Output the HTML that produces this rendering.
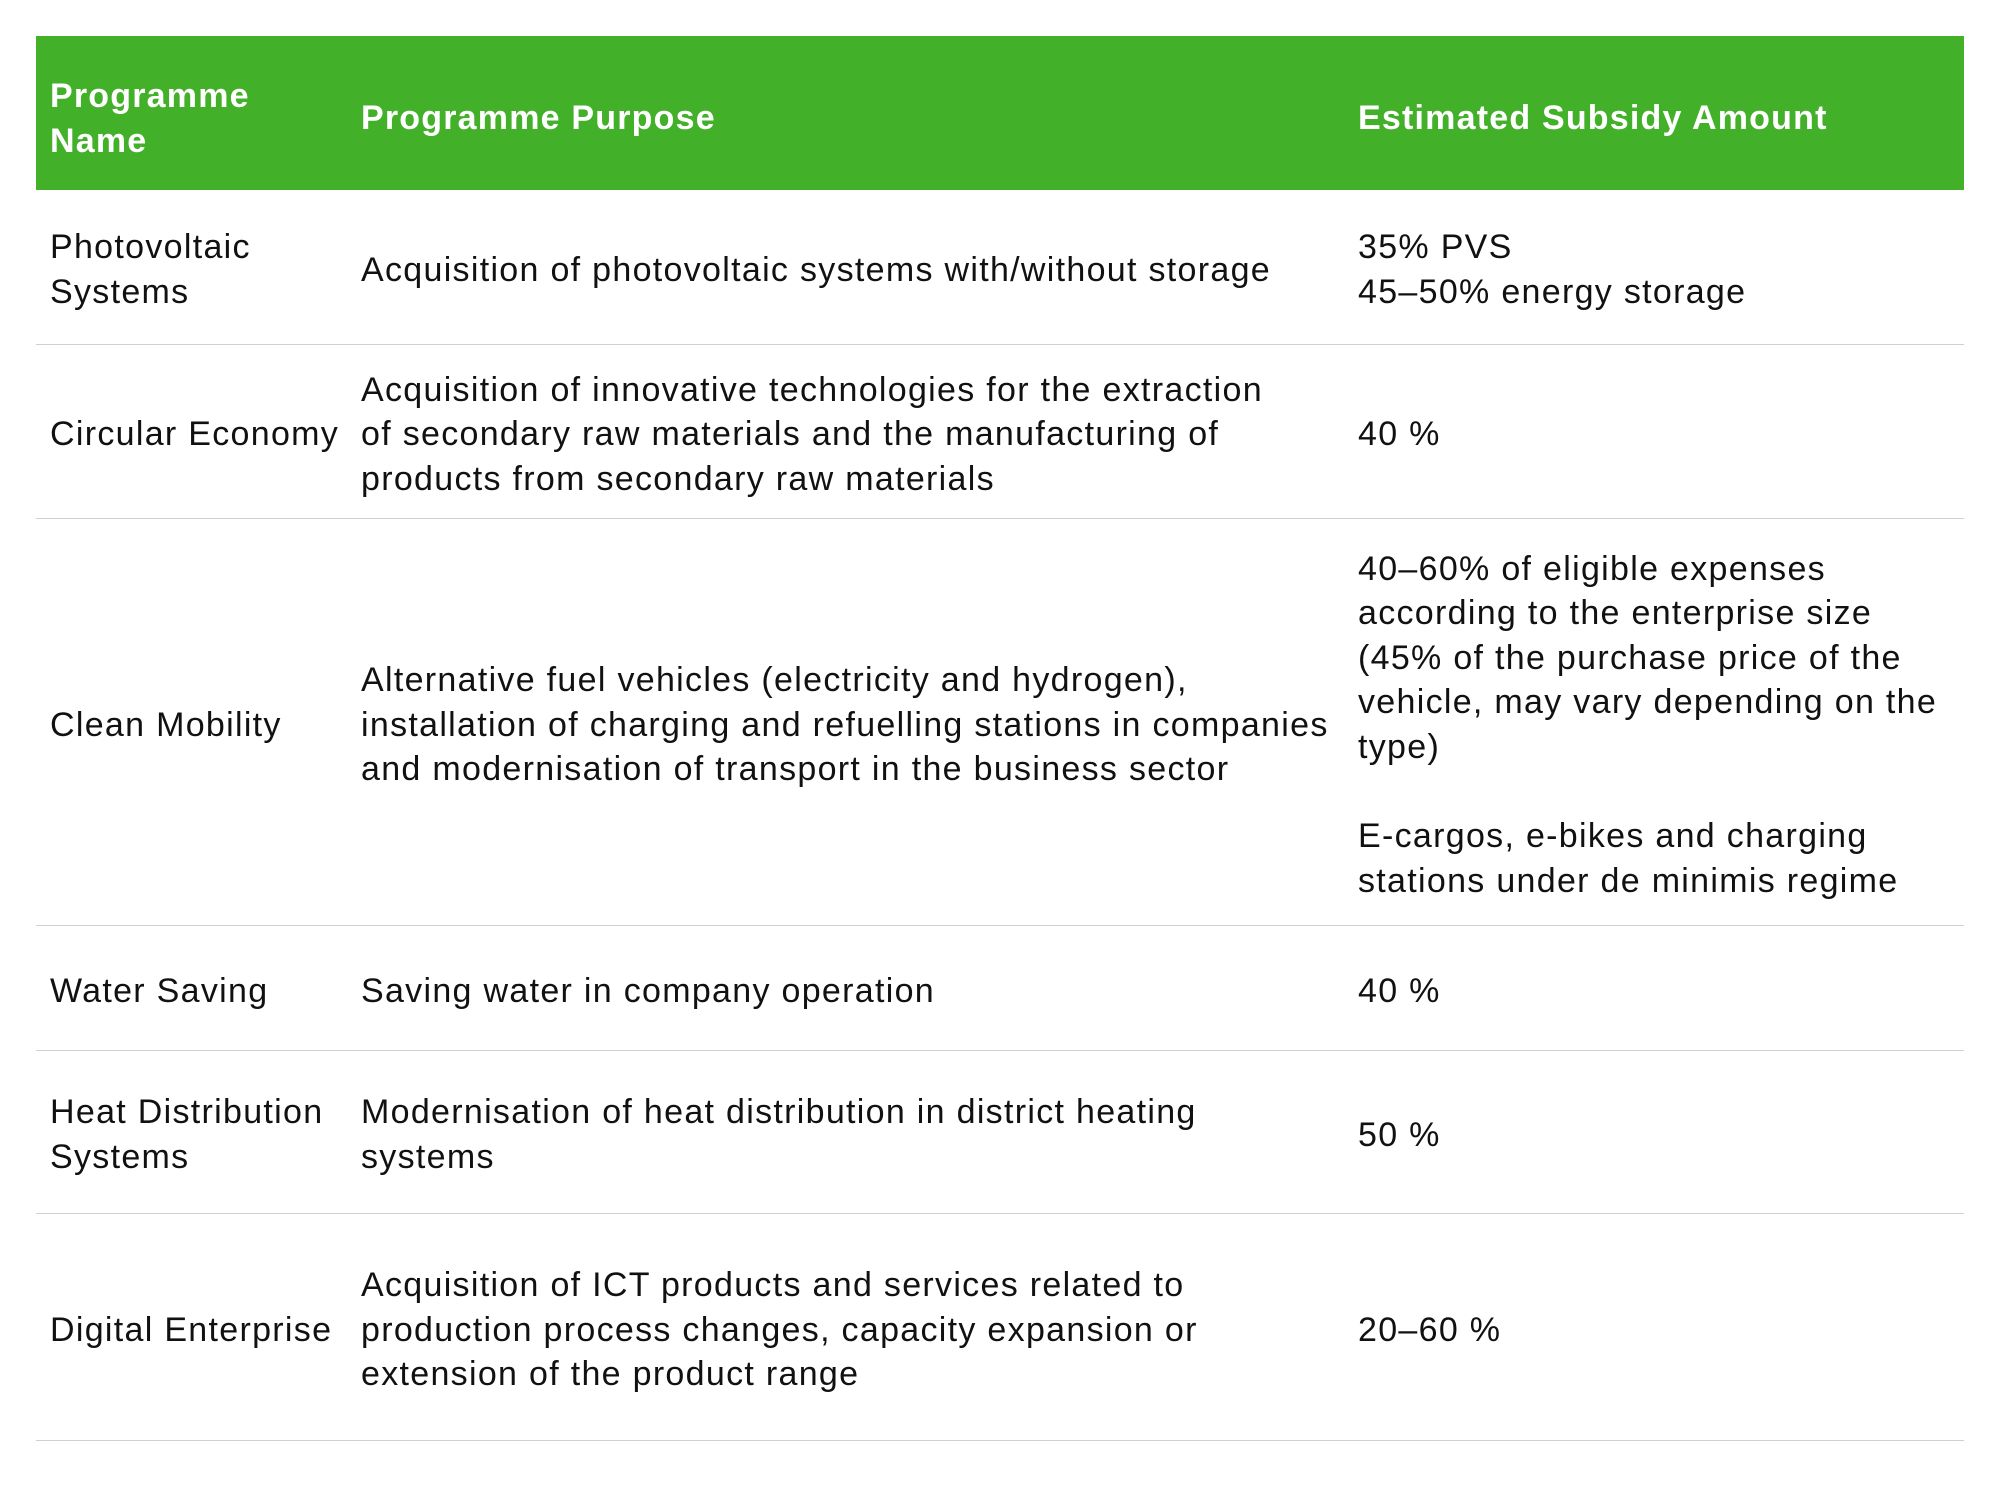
<!DOCTYPE html>
<html><head><meta charset="utf-8"><style>
html,body{margin:0;padding:0;background:#fff;width:2000px;height:1495px;overflow:hidden}
body{font-family:"Liberation Sans",sans-serif;color:#111;font-size:34px;line-height:44.6px;letter-spacing:1.3px}
.row{position:absolute;left:36px;width:1928px;border-bottom:1.5px solid #d0d0d0;box-sizing:border-box}
.hdr{background:#43b02a;color:#fff;font-weight:bold;border-bottom:none;letter-spacing:1.2px}
.c{position:absolute;top:6px;bottom:0;display:flex;align-items:center;white-space:nowrap}
.c1{left:14px;width:300px}.c2{left:325px;width:1000px}.c3{left:1322px;width:600px}
.hdr .c{top:11px}
</style></head><body>
<div class="row hdr" style="top:36px;height:154px"><div class="c c1">Programme<br>Name</div><div class="c c2">Programme Purpose</div><div class="c c3">Estimated Subsidy Amount</div></div>
<div class="row" style="top:190px;height:155px"><div class="c c1">Photovoltaic<br>Systems</div><div class="c c2">Acquisition of photovoltaic systems with/without storage</div><div class="c c3">35% PVS<br>45–50% energy storage</div></div>
<div class="row" style="top:345px;height:174px"><div class="c c1">Circular Economy</div><div class="c c2">Acquisition of innovative technologies for the extraction<br>of secondary raw materials and the manufacturing of<br>products from secondary raw materials</div><div class="c c3">40 %</div></div>
<div class="row" style="top:519px;height:407px"><div class="c c1">Clean Mobility</div><div class="c c2">Alternative fuel vehicles (electricity and hydrogen),<br>installation of charging and refuelling stations in companies<br>and modernisation of transport in the business sector</div><div class="c c3">40–60% of eligible expenses<br>according to the enterprise size<br>(45% of the purchase price of the<br>vehicle, may vary depending on the<br>type)<br><br>E-cargos, e-bikes and charging<br>stations under de minimis regime</div></div>
<div class="row" style="top:926px;height:125px"><div class="c c1">Water Saving</div><div class="c c2">Saving water in company operation</div><div class="c c3">40 %</div></div>
<div class="row" style="top:1051px;height:163px"><div class="c c1">Heat Distribution<br>Systems</div><div class="c c2">Modernisation of heat distribution in district heating<br>systems</div><div class="c c3">50 %</div></div>
<div class="row" style="top:1214px;height:227px"><div class="c c1">Digital Enterprise</div><div class="c c2">Acquisition of ICT products and services related to<br>production process changes, capacity expansion or<br>extension of the product range</div><div class="c c3">20–60 %</div></div>
</body></html>
